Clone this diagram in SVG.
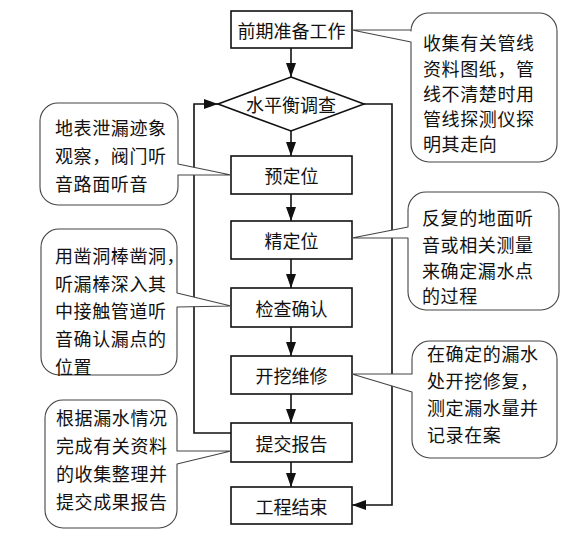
<svg xmlns="http://www.w3.org/2000/svg" width="564" height="536" viewBox="0 0 564 536">
<defs>
<style>
.box{fill:#fff;stroke:#111;stroke-width:1.6}
.line{fill:none;stroke:#111;stroke-width:1.6}
.co{fill:#fff;stroke:#444;stroke-width:1.1;stroke-linejoin:round}
.t{font-family:"Noto Sans CJK SC","Noto Sans CJK JP",sans-serif;font-size:18px;fill:#111;dominant-baseline:central}
.c{text-anchor:middle}
.n{letter-spacing:0.6px}
</style>
<marker id="ah" viewBox="0 0 14 10" refX="14" refY="5" markerWidth="14" markerHeight="10" markerUnits="userSpaceOnUse" orient="auto">
<path d="M0,0 L14,5 L0,10 Z" fill="#111"/>
</marker>
</defs>
<rect width="564" height="536" fill="#fff"/>

<g id="connectors">
<line class="line" x1="291" y1="48" x2="291" y2="77" marker-end="url(#ah)"/>
<line class="line" x1="291" y1="131" x2="291" y2="156" marker-end="url(#ah)"/>
<line class="line" x1="291" y1="194" x2="291" y2="221" marker-end="url(#ah)"/>
<line class="line" x1="291" y1="259" x2="291" y2="288" marker-end="url(#ah)"/>
<line class="line" x1="291" y1="327" x2="291" y2="356" marker-end="url(#ah)"/>
<line class="line" x1="291" y1="394" x2="291" y2="423" marker-end="url(#ah)"/>
<line class="line" x1="291" y1="462" x2="291" y2="487" marker-end="url(#ah)"/>
<polyline class="line" points="231,433 194,433 194,104 218,104" marker-end="url(#ah)"/>
<polyline class="line" points="364,104 392,104 392,505 352,505" marker-end="url(#ah)"/>
</g>

<g id="n1"><rect class="box" x="231" y="11" width="121" height="37"/><text class="t c" x="291.5" y="30">前期准备工作</text></g>
<g id="n2"><polygon class="box" points="291,77 364,104 291,131 218,104"/><text class="t c" x="291" y="104">水平衡调查</text></g>
<g id="n3"><rect class="box" x="231" y="156" width="121" height="38"/><text class="t c" x="291.5" y="175">预定位</text></g>
<g id="n4"><rect class="box" x="231" y="221" width="121" height="38"/><text class="t c" x="291.5" y="240">精定位</text></g>
<g id="n5"><rect class="box" x="231" y="288" width="121" height="39"/><text class="t c" x="291.5" y="307.5">检查确认</text></g>
<g id="n6"><rect class="box" x="231" y="356" width="121" height="38"/><text class="t c" x="291.5" y="375">开挖维修</text></g>
<g id="n7"><rect class="box" x="231" y="423" width="121" height="39"/><text class="t c" x="291.5" y="442.5">提交报告</text></g>
<g id="n8"><rect class="box" x="231" y="487" width="121" height="37"/><text class="t c" x="291.5" y="505.5">工程结束</text></g>

<g id="note1">
<path class="co" d="M178,175 L178,187 A18,18 0 0 1 160,205 L58,205 A18,18 0 0 1 40,187 L40,121 A18,18 0 0 1 58,103 L160,103 A18,18 0 0 1 178,121 L178,164 L231,175 Z"/>
<text class="t n" x="55" y="127">地表泄漏迹象</text>
<text class="t n" x="55" y="155">观察，阀门听</text>
<text class="t n" x="55" y="183">音路面听音</text>
</g>

<g id="note2">
<path class="co" d="M177,307 L177,357 A18,18 0 0 1 159,375 L59,375 A18,18 0 0 1 41,357 L41,247 A18,18 0 0 1 59,229 L159,229 A18,18 0 0 1 177,247 L177,293 L231,306 Z"/>
<text class="t n" x="55" y="255">用凿洞棒凿洞，</text>
<text class="t n" x="55" y="282.5">听漏棒深入其</text>
<text class="t n" x="55" y="310">中接触管道听</text>
<text class="t n" x="55" y="338">音确认漏点的</text>
<text class="t n" x="55" y="366">位置</text>
</g>

<g id="note3">
<path class="co" d="M177,464 L177,510 A18,18 0 0 1 159,528 L63,528 A18,18 0 0 1 45,510 L45,418 A18,18 0 0 1 63,400 L159,400 A18,18 0 0 1 177,418 L177,451 L231,451 Z"/>
<text class="t n" x="56" y="417">根据漏水情况</text>
<text class="t n" x="56" y="445">完成有关资料</text>
<text class="t n" x="56" y="473">的收集整理并</text>
<text class="t n" x="56" y="501">提交成果报告</text>
</g>

<g id="note4">
<path class="co" d="M411,30 L411,31 A18,18 0 0 1 429,13 L539,13 A18,18 0 0 1 557,31 L557,144 A18,18 0 0 1 539,162 L429,162 A18,18 0 0 1 411,144 L411,42 L352,30 Z"/>
<text class="t n" x="423" y="42">收集有关管线</text>
<text class="t n" x="423" y="67.5">资料图纸，管</text>
<text class="t n" x="423" y="93">线不清楚时用</text>
<text class="t n" x="423" y="118">管线探测仪探</text>
<text class="t n" x="423" y="143">明其走向</text>
</g>

<g id="note5">
<path class="co" d="M408,227 L408,210 A18,18 0 0 1 426,192 L541,192 A18,18 0 0 1 559,210 L559,292 A18,18 0 0 1 541,310 L426,310 A18,18 0 0 1 408,292 L408,238 L352,238 Z"/>
<text class="t n" x="422" y="217">反复的地面听</text>
<text class="t n" x="422" y="244">音或相关测量</text>
<text class="t n" x="422" y="270">来确定漏水点</text>
<text class="t n" x="422" y="295">的过程</text>
</g>

<g id="note6">
<path class="co" d="M412,374 L412,359 A18,18 0 0 1 430,341 L539,341 A18,18 0 0 1 557,359 L557,440 A18,18 0 0 1 539,458 L430,458 A18,18 0 0 1 412,440 L412,392 L352,374 Z"/>
<text class="t n" x="427" y="353">在确定的漏水</text>
<text class="t n" x="427" y="380">处开挖修复，</text>
<text class="t n" x="427" y="407">测定漏水量并</text>
<text class="t n" x="427" y="434">记录在案</text>
</g>
</svg>
